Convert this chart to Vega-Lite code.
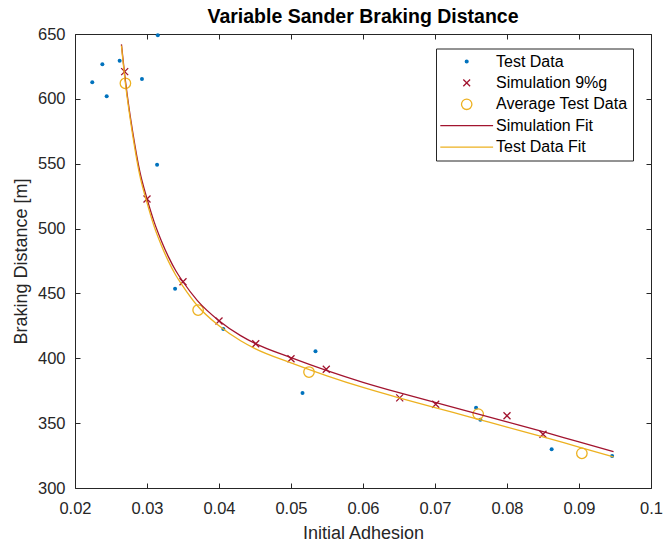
{
  "$schema": "https://vega.github.io/schema/vega-lite/v6.json",
  "width": 576,
  "height": 454,
  "autosize": {"type": "none"},
  "padding": {"left": 75, "top": 34, "right": 13, "bottom": 57},
  "background": "white",
  "config": {
    "font": "Liberation Sans",
    "view": {"stroke": null},
    "axis": {"grid": false, "domainColor": "#262626", "tickColor": "#262626", "labelColor": "#262626", "titleColor": "#262626", "domainWidth": 1, "tickWidth": 1},
    "legend": {
      "orient": "none", "legendX": 361, "legendY": 14.5, "title": null,
      "padding": 5, "rowPadding": 5.4, "symbolOffset": 17.7, "labelOffset": 21.3,
      "labelFontSize": 16, "labelColor": "#000000", "labelLimit": 0, "symbolSize": 64, "symbolStrokeWidth": 1.3,
      "fillColor": "white", "strokeColor": "#262626"
    }
  },
  "title": {"text": "Variable Sander Braking Distance", "fontSize": 19.5, "fontWeight": "bold", "color": "#000000", "offset": -1, "anchor": "middle"},
  "data": {"values": [
    {"series": "Test Data", "x": 0.0224, "y": 612.8},
    {"series": "Test Data", "x": 0.0238, "y": 626.6},
    {"series": "Test Data", "x": 0.0244, "y": 602.0},
    {"series": "Test Data", "x": 0.0262, "y": 629.4},
    {"series": "Test Data", "x": 0.0293, "y": 615.3},
    {"series": "Test Data", "x": 0.0315, "y": 649.0},
    {"series": "Test Data", "x": 0.0314, "y": 549.2},
    {"series": "Test Data", "x": 0.0339, "y": 453.6},
    {"series": "Test Data", "x": 0.0406, "y": 422.5},
    {"series": "Test Data", "x": 0.0516, "y": 373.2},
    {"series": "Test Data", "x": 0.0534, "y": 405.4},
    {"series": "Test Data", "x": 0.0757, "y": 361.9},
    {"series": "Test Data", "x": 0.0763, "y": 352.6},
    {"series": "Test Data", "x": 0.0862, "y": 329.8},
    {"series": "Test Data", "x": 0.0946, "y": 324.6},
    {"series": "Simulation 9%g", "x": 0.0269, "y": 621.0},
    {"series": "Simulation 9%g", "x": 0.0300, "y": 522.8},
    {"series": "Simulation 9%g", "x": 0.0350, "y": 459.0},
    {"series": "Simulation 9%g", "x": 0.0400, "y": 428.7},
    {"series": "Simulation 9%g", "x": 0.0451, "y": 411.2},
    {"series": "Simulation 9%g", "x": 0.0500, "y": 399.7},
    {"series": "Simulation 9%g", "x": 0.0549, "y": 391.5},
    {"series": "Simulation 9%g", "x": 0.0651, "y": 369.5},
    {"series": "Simulation 9%g", "x": 0.0701, "y": 364.5},
    {"series": "Simulation 9%g", "x": 0.0800, "y": 355.7},
    {"series": "Simulation 9%g", "x": 0.0850, "y": 341.4},
    {"series": "Average Test Data", "x": 0.0270, "y": 612.0},
    {"series": "Average Test Data", "x": 0.0371, "y": 437.2},
    {"series": "Average Test Data", "x": 0.0525, "y": 389.4},
    {"series": "Average Test Data", "x": 0.0760, "y": 357.0},
    {"series": "Average Test Data", "x": 0.0904, "y": 326.7},
    {"series": "Simulation Fit", "x": 0.02645, "y": 642},
    {"series": "Simulation Fit", "x": 0.0270, "y": 614},
    {"series": "Simulation Fit", "x": 0.0275, "y": 593},
    {"series": "Simulation Fit", "x": 0.0280, "y": 575},
    {"series": "Simulation Fit", "x": 0.0290, "y": 544},
    {"series": "Simulation Fit", "x": 0.0300, "y": 523},
    {"series": "Simulation Fit", "x": 0.0310, "y": 505},
    {"series": "Simulation Fit", "x": 0.0320, "y": 490.5},
    {"series": "Simulation Fit", "x": 0.0330, "y": 478},
    {"series": "Simulation Fit", "x": 0.0340, "y": 467.5},
    {"series": "Simulation Fit", "x": 0.0350, "y": 459},
    {"series": "Simulation Fit", "x": 0.0370, "y": 444.5},
    {"series": "Simulation Fit", "x": 0.0400, "y": 429},
    {"series": "Simulation Fit", "x": 0.0430, "y": 417.5},
    {"series": "Simulation Fit", "x": 0.0450, "y": 411.5},
    {"series": "Simulation Fit", "x": 0.0500, "y": 400.5},
    {"series": "Simulation Fit", "x": 0.0550, "y": 390.5},
    {"series": "Simulation Fit", "x": 0.0600, "y": 381.5},
    {"series": "Simulation Fit", "x": 0.0650, "y": 373.5},
    {"series": "Simulation Fit", "x": 0.0700, "y": 366},
    {"series": "Simulation Fit", "x": 0.0750, "y": 358.5},
    {"series": "Simulation Fit", "x": 0.0800, "y": 351},
    {"series": "Simulation Fit", "x": 0.0850, "y": 343.5},
    {"series": "Simulation Fit", "x": 0.0900, "y": 335.5},
    {"series": "Simulation Fit", "x": 0.0948, "y": 328},
    {"series": "Test Data Fit", "x": 0.02645, "y": 641},
    {"series": "Test Data Fit", "x": 0.0270, "y": 612},
    {"series": "Test Data Fit", "x": 0.0275, "y": 591},
    {"series": "Test Data Fit", "x": 0.0280, "y": 572.5},
    {"series": "Test Data Fit", "x": 0.0290, "y": 541},
    {"series": "Test Data Fit", "x": 0.0300, "y": 520},
    {"series": "Test Data Fit", "x": 0.0310, "y": 501.5},
    {"series": "Test Data Fit", "x": 0.0320, "y": 487},
    {"series": "Test Data Fit", "x": 0.0330, "y": 474.5},
    {"series": "Test Data Fit", "x": 0.0340, "y": 464},
    {"series": "Test Data Fit", "x": 0.0350, "y": 455.5},
    {"series": "Test Data Fit", "x": 0.0370, "y": 440.5},
    {"series": "Test Data Fit", "x": 0.0400, "y": 425},
    {"series": "Test Data Fit", "x": 0.0430, "y": 413.5},
    {"series": "Test Data Fit", "x": 0.0450, "y": 407.5},
    {"series": "Test Data Fit", "x": 0.0500, "y": 396.5},
    {"series": "Test Data Fit", "x": 0.0550, "y": 386.5},
    {"series": "Test Data Fit", "x": 0.0600, "y": 377.5},
    {"series": "Test Data Fit", "x": 0.0650, "y": 369.5},
    {"series": "Test Data Fit", "x": 0.0700, "y": 362},
    {"series": "Test Data Fit", "x": 0.0750, "y": 354.5},
    {"series": "Test Data Fit", "x": 0.0800, "y": 347},
    {"series": "Test Data Fit", "x": 0.0850, "y": 339.5},
    {"series": "Test Data Fit", "x": 0.0900, "y": 331.5},
    {"series": "Test Data Fit", "x": 0.0948, "y": 324}
  ]},
  "resolve": {"axis": {"x": "independent", "y": "independent"}},
  "layer": [
    {
      "transform": [{"filter": "datum.series === 'Test Data'"}],
      "mark": {"type": "point", "shape": "circle", "filled": true, "size": 16, "opacity": 1},
      "encoding": {
        "x": {"field": "x", "type": "quantitative", "scale": {"domain": [0.02, 0.1], "nice": false, "zero": false},
          "axis": {"orient": "bottom", "values": [0.02, 0.03, 0.04, 0.05, 0.06, 0.07, 0.08, 0.09, 0.1], "format": ".2~f", "tickSize": -5, "labelPadding": 17, "labelFontSize": 16.5, "labelFlush": false, "labelOverlap": false, "labelBound": false, "title": "Initial Adhesion", "titleFontSize": 18, "titleFontWeight": "normal", "titlePadding": 8}},
        "y": {"field": "y", "type": "quantitative", "scale": {"domain": [300, 650], "nice": false, "zero": false},
          "axis": {"orient": "left", "values": [300, 350, 400, 450, 500, 550, 600, 650], "tickSize": -5, "labelPadding": 15, "labelFontSize": 16.5, "labelFlush": false, "labelOverlap": false, "labelBound": false, "title": "Braking Distance [m]", "titleFontSize": 18, "titleFontWeight": "normal", "titlePadding": 7}},
        "color": {"field": "series", "type": "nominal",
          "scale": {"domain": ["Test Data", "Simulation 9%g", "Average Test Data", "Simulation Fit", "Test Data Fit"], "range": ["#0072BD", "#A2142F", "#EDB120", "#A2142F", "#EDB120"]},
          "legend": {
            "encode": {"symbols": {"update": {
              "shape": {"signal": "datum.value === 'Test Data' ? 'M-0.35,0A0.35,0.35 0 1,0 0.35,0A0.35,0.35 0 1,0 -0.35,0Z' : datum.value === 'Simulation 9%g' ? 'M-0.85,-0.85L0.85,0.85M0.85,-0.85L-0.85,0.85' : datum.value === 'Average Test Data' ? 'M-1.3,0A1.3,1.3 0 1,0 1.3,0A1.3,1.3 0 1,0 -1.3,0Z' : 'M-6.6,0H6.6'"},
              "size": {"value": 64},
              "fill": {"signal": "datum.value === 'Test Data' ? '#0072BD' : '#ffffff'"},
              "fillOpacity": {"signal": "datum.value === 'Test Data' ? 1 : 0"},
              "stroke": {"signal": "datum.value === 'Test Data' ? '#0072BD' : (datum.value === 'Simulation 9%g' || datum.value === 'Simulation Fit') ? '#A2142F' : '#EDB120'"},
              "strokeWidth": {"value": 1.3},
              "opacity": {"value": 1}
            }}}
          }}
      }
    },
    {
      "transform": [{"filter": "datum.series === 'Simulation 9%g'"}],
      "mark": {"type": "point", "shape": "M-1,-1L1,1M1,-1L-1,1", "filled": false, "size": 49, "strokeWidth": 1.3, "opacity": 1},
      "encoding": {
        "x": {"field": "x", "type": "quantitative", "scale": {"domain": [0.02, 0.1], "nice": false, "zero": false},
          "axis": {"orient": "top", "values": [0.02, 0.03, 0.04, 0.05, 0.06, 0.07, 0.08, 0.09, 0.1], "tickSize": -5, "labels": false, "title": null}},
        "y": {"field": "y", "type": "quantitative", "scale": {"domain": [300, 650], "nice": false, "zero": false},
          "axis": {"orient": "right", "values": [300, 350, 400, 450, 500, 550, 600, 650], "tickSize": -5, "labels": false, "title": null}},
        "color": {"field": "series", "type": "nominal",
          "legend": {
            "encode": {"symbols": {"update": {
              "shape": {"signal": "datum.value === 'Test Data' ? 'M-0.35,0A0.35,0.35 0 1,0 0.35,0A0.35,0.35 0 1,0 -0.35,0Z' : datum.value === 'Simulation 9%g' ? 'M-0.85,-0.85L0.85,0.85M0.85,-0.85L-0.85,0.85' : datum.value === 'Average Test Data' ? 'M-1.3,0A1.3,1.3 0 1,0 1.3,0A1.3,1.3 0 1,0 -1.3,0Z' : 'M-6.6,0H6.6'"},
              "size": {"value": 64},
              "fill": {"signal": "datum.value === 'Test Data' ? '#0072BD' : '#ffffff'"},
              "fillOpacity": {"signal": "datum.value === 'Test Data' ? 1 : 0"},
              "stroke": {"signal": "datum.value === 'Test Data' ? '#0072BD' : (datum.value === 'Simulation 9%g' || datum.value === 'Simulation Fit') ? '#A2142F' : '#EDB120'"},
              "strokeWidth": {"value": 1.3},
              "opacity": {"value": 1}
            }}}
          }}
      }
    },
    {
      "transform": [{"filter": "datum.series === 'Average Test Data'"}],
      "mark": {"type": "point", "shape": "circle", "filled": false, "size": 110, "strokeWidth": 1.3, "opacity": 1},
      "encoding": {
        "x": {"field": "x", "type": "quantitative", "axis": null},
        "y": {"field": "y", "type": "quantitative", "axis": null},
        "color": {"field": "series", "type": "nominal",
          "legend": {
            "encode": {"symbols": {"update": {
              "shape": {"signal": "datum.value === 'Test Data' ? 'M-0.35,0A0.35,0.35 0 1,0 0.35,0A0.35,0.35 0 1,0 -0.35,0Z' : datum.value === 'Simulation 9%g' ? 'M-0.85,-0.85L0.85,0.85M0.85,-0.85L-0.85,0.85' : datum.value === 'Average Test Data' ? 'M-1.3,0A1.3,1.3 0 1,0 1.3,0A1.3,1.3 0 1,0 -1.3,0Z' : 'M-6.6,0H6.6'"},
              "size": {"value": 64},
              "fill": {"signal": "datum.value === 'Test Data' ? '#0072BD' : '#ffffff'"},
              "fillOpacity": {"signal": "datum.value === 'Test Data' ? 1 : 0"},
              "stroke": {"signal": "datum.value === 'Test Data' ? '#0072BD' : (datum.value === 'Simulation 9%g' || datum.value === 'Simulation Fit') ? '#A2142F' : '#EDB120'"},
              "strokeWidth": {"value": 1.3},
              "opacity": {"value": 1}
            }}}
          }}
      }
    },
    {
      "transform": [{"filter": "datum.series === 'Simulation Fit'"}],
      "mark": {"type": "line", "interpolate": "monotone", "strokeWidth": 1.3},
      "encoding": {
        "x": {"field": "x", "type": "quantitative", "axis": null},
        "y": {"field": "y", "type": "quantitative", "axis": null},
        "color": {"field": "series", "type": "nominal",
          "legend": {
            "encode": {"symbols": {"update": {
              "shape": {"signal": "datum.value === 'Test Data' ? 'M-0.35,0A0.35,0.35 0 1,0 0.35,0A0.35,0.35 0 1,0 -0.35,0Z' : datum.value === 'Simulation 9%g' ? 'M-0.85,-0.85L0.85,0.85M0.85,-0.85L-0.85,0.85' : datum.value === 'Average Test Data' ? 'M-1.3,0A1.3,1.3 0 1,0 1.3,0A1.3,1.3 0 1,0 -1.3,0Z' : 'M-6.6,0H6.6'"},
              "size": {"value": 64},
              "fill": {"signal": "datum.value === 'Test Data' ? '#0072BD' : '#ffffff'"},
              "fillOpacity": {"signal": "datum.value === 'Test Data' ? 1 : 0"},
              "stroke": {"signal": "datum.value === 'Test Data' ? '#0072BD' : (datum.value === 'Simulation 9%g' || datum.value === 'Simulation Fit') ? '#A2142F' : '#EDB120'"},
              "strokeWidth": {"value": 1.3},
              "opacity": {"value": 1}
            }}}
          }}
      }
    },
    {
      "transform": [{"filter": "datum.series === 'Test Data Fit'"}],
      "mark": {"type": "line", "interpolate": "monotone", "strokeWidth": 1.3},
      "encoding": {
        "x": {"field": "x", "type": "quantitative", "axis": null},
        "y": {"field": "y", "type": "quantitative", "axis": null},
        "color": {"field": "series", "type": "nominal",
          "legend": {
            "encode": {"symbols": {"update": {
              "shape": {"signal": "datum.value === 'Test Data' ? 'M-0.35,0A0.35,0.35 0 1,0 0.35,0A0.35,0.35 0 1,0 -0.35,0Z' : datum.value === 'Simulation 9%g' ? 'M-0.85,-0.85L0.85,0.85M0.85,-0.85L-0.85,0.85' : datum.value === 'Average Test Data' ? 'M-1.3,0A1.3,1.3 0 1,0 1.3,0A1.3,1.3 0 1,0 -1.3,0Z' : 'M-6.6,0H6.6'"},
              "size": {"value": 64},
              "fill": {"signal": "datum.value === 'Test Data' ? '#0072BD' : '#ffffff'"},
              "fillOpacity": {"signal": "datum.value === 'Test Data' ? 1 : 0"},
              "stroke": {"signal": "datum.value === 'Test Data' ? '#0072BD' : (datum.value === 'Simulation 9%g' || datum.value === 'Simulation Fit') ? '#A2142F' : '#EDB120'"},
              "strokeWidth": {"value": 1.3},
              "opacity": {"value": 1}
            }}}
          }}
      }
    }
  ]
}
